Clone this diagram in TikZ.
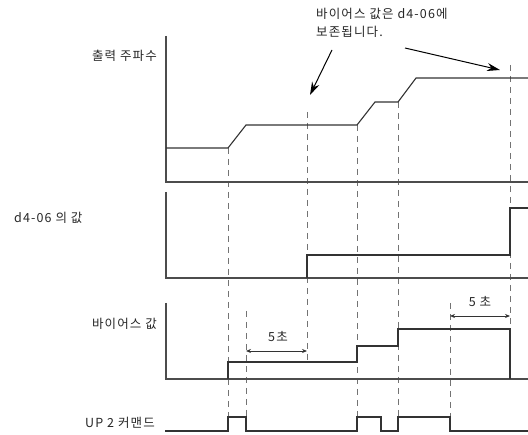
\documentclass[tikz,border=0pt]{standalone}
\usepackage{fontspec}
\setmainfont[LetterSpace=9]{Noto Sans CJK KR}
\usetikzlibrary{arrows.meta}
\begin{document}
\begin{tikzpicture}[x=1pt,y=-1pt,
  axis/.style={draw=black!70,line width=1.1pt},
  sig/.style={draw=black!80,line width=1.1pt,line join=miter},
  guide/.style={draw=black!55,line width=0.9pt,dash pattern=on 6pt off 5pt},
  lbl/.style={font=\fontsize{12.5}{15}\selectfont,text=black!85,inner sep=0pt},
  dim/.style={draw=black!80,line width=0.8pt,{Stealth[length=5pt,width=4pt]}-{Stealth[length=5pt,width=4pt]}},
  callout/.style={draw=black,line width=1pt,-{Stealth[length=13pt,width=8pt]}}]
\useasboundingbox (0,0) rectangle (528,435);
% guides
\draw[guide] (228,148) -- (228,417);
\draw[guide] (246,311) -- (246,417);
\draw[guide] (307,112) -- (307,362);
\draw[guide] (357,125) -- (357,417);
\draw[guide] (398,102) -- (398,417);
\draw[guide] (450,303) -- (450,417);
\draw[guide] (510,65) -- (510,329);
% axes
\draw[axis] (166,36) -- (166,182) -- (528,182);
\draw[axis] (166,192) -- (166,278) -- (528,278);
\draw[axis] (166,303) -- (166,379) -- (528,379);
% signals
\draw[sig] (166,148) -- (228,148) -- (246,125) -- (357,125) -- (375,102) -- (398,102) -- (416,78) -- (528,78);
\draw[sig] (307,278) -- (307,255) -- (510,255) -- (510,208) -- (528,208);
\draw[sig] (228,379) -- (228,362) -- (357,362) -- (357,346) -- (398,346) -- (398,329) -- (510,329) -- (510,379);
\draw[sig] (165,431) -- (228,431) -- (228,417) -- (246,417) -- (246,431) -- (357,431) -- (357,417) -- (381,417) -- (381,431) -- (398,431) -- (398,417) -- (450,417) -- (450,431) -- (528,431);
% labels
\node[lbl,anchor=east] (lf) at (157,56) {출력 주파수};
\node[lbl,anchor=west] (ld) at (14,218) {d4-06 의 값};
\node[lbl,anchor=east] (lb) at (157,324) {바이어스 값};
\node[lbl,anchor=east] (lu) at (155,423) {UP 2 커맨드};
% dimension arrows
\coordinate (a1) at (246,351); \coordinate (a2) at (307,351);
\draw[dim] (a1) -- (a2);
\node[lbl] (t1) at (278,337) {5초};
\coordinate (b1) at (450,316); \coordinate (b2) at (510,316);
\draw[dim] (b1) -- (b2);
\node[lbl] (t2) at (480,302) {5 초};
% annotation
\node[lbl,anchor=west] (n1) at (316,14) {바이어스 값은 d4-06에};
\node[lbl,anchor=west] (n2) at (316,32) {보존됩니다.};
\coordinate (c1s) at (332,50); \coordinate (c1e) at (310,95);
\coordinate (c2s) at (405,48); \coordinate (c2e) at (500,70);
\draw[callout] (c1s) -- (c1e);
\draw[callout] (c2s) -- (c2e);
\end{tikzpicture}
\end{document}
